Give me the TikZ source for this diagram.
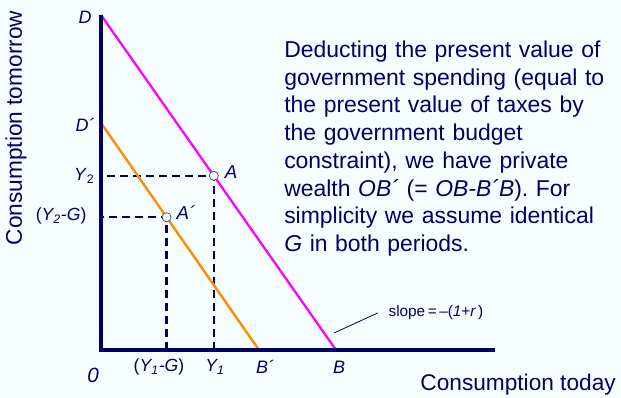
\documentclass[tikz,border=0pt]{standalone}
\usepackage{fontspec}
\setmainfont{Liberation Sans}
\usetikzlibrary{calc}
\definecolor{navy}{RGB}{0,0,102}
\definecolor{bgcol}{RGB}{246,254,255}
\definecolor{budget}{RGB}{255,0,255}
\definecolor{privbudget}{RGB}{255,140,0}

\begin{document}
\begin{tikzpicture}[x=0.75pt,y=0.75pt,
  lbl/.style={text=navy,inner sep=1pt,font=\fontsize{13.2}{15}\selectfont},
  title/.style={text=navy,inner sep=0pt,font=\fontsize{17}{20}\selectfont},
  guide/.style={navy,line width=1.9pt,dash pattern=on 6pt off 3.75pt},
  pt/.style={circle,draw=navy!70,fill=white,line width=0.6pt,minimum size=6.8pt,inner sep=0pt}]
  \fill[bgcol] (0,0) rectangle (621,398); \useasboundingbox (0,0) rectangle (621,398);
  % corner, intercepts and the two points
  \coordinate (O) at (101,48); \coordinate (D) at (101,383); \coordinate (B) at (336,48);
  \coordinate (Dp) at (101,275); \coordinate (Bp) at (259,48);
  \coordinate (A) at ($(D)!0.48!(B)$); \coordinate (Ap) at ($(Dp)!0.415!(Bp)$);
  \draw[guide] (A|-O) -- (A) -- (A-|O); \draw[guide] (Ap|-O) -- (Ap) -- (Ap-|O);
  \draw[budget,line width=1.7pt] (D) -- (B); \draw[privbudget,line width=1.8pt] (Dp) -- (Bp);
  \draw[navy,line width=3pt] (101,383) -- (O) -- (495,48);
  \node[pt] (ptA) at (A) {}; \node[pt] (ptAp) at (Ap) {};
  % labels on the axes
  \node[lbl,font=\fontsize{13.5}{15}\selectfont\itshape] (labD) at (85,381) {D};
  \node[lbl,font=\fontsize{13.5}{15}\selectfont\itshape] (labDp) at (85,273) {D´};
  \node[lbl,anchor=east] (labY2) at (96,222) {\textit{Y}\textsubscript{2}};
  \node[lbl,anchor=east] (labY2G) at (88,182) {(\textit{Y\textsubscript{2}-G})};
  \node[lbl,font=\fontsize{14}{16}\selectfont\itshape] (labA) at (231,226) {A};
  \node[lbl,font=\fontsize{14}{16}\selectfont\itshape] (labAp) at (186,185) {A´};
  \node[lbl] (labY1G) at (159,31) {(\textit{Y\textsubscript{1}-G})};
  \node[lbl] (labY1) at (215,31) {\textit{Y\textsubscript{1}}};
  \node[lbl,font=\fontsize{13.5}{15}\selectfont\itshape] (labBp) at (265,31) {B´};
  \node[lbl,font=\fontsize{13.5}{15}\selectfont\itshape] (labB) at (339,31) {B};
  \node[lbl,font=\fontsize{15.5}{17}\selectfont\itshape] (labO) at (93,23) {0};
  \node[lbl,anchor=west,font=\fontsize{11.5}{13}\selectfont] (slope) at (387,85) {slope\,=\,–(\textit{1}+\textit{r\,})};
  \coordinate (slopeend) at (334,65);
  \draw[navy,line width=0.6pt] (slopeend) -- ([xshift=-7pt]slope.west);
  % axis titles and the note
  \node[title,anchor=east] (xtitle) at (616,13) {Consumption today};
  \node[title,rotate=90] (ytitle) at (16,270) {Consumption tomorrow};
  \node[title,anchor=north west,align=left,text width=250pt,font=\fontsize{17.2}{20.8}\selectfont] (note) at (284,357.5)
    {Deducting the present value of\\ government spending (equal to\\ the present value of taxes by\\ the government budget\\
     constraint), we have private\\ wealth \textit{OB´} (= \textit{OB-B´B}). For\\ simplicity we assume identical\\ \textit{G} in both periods.};
\end{tikzpicture}
\end{document}
